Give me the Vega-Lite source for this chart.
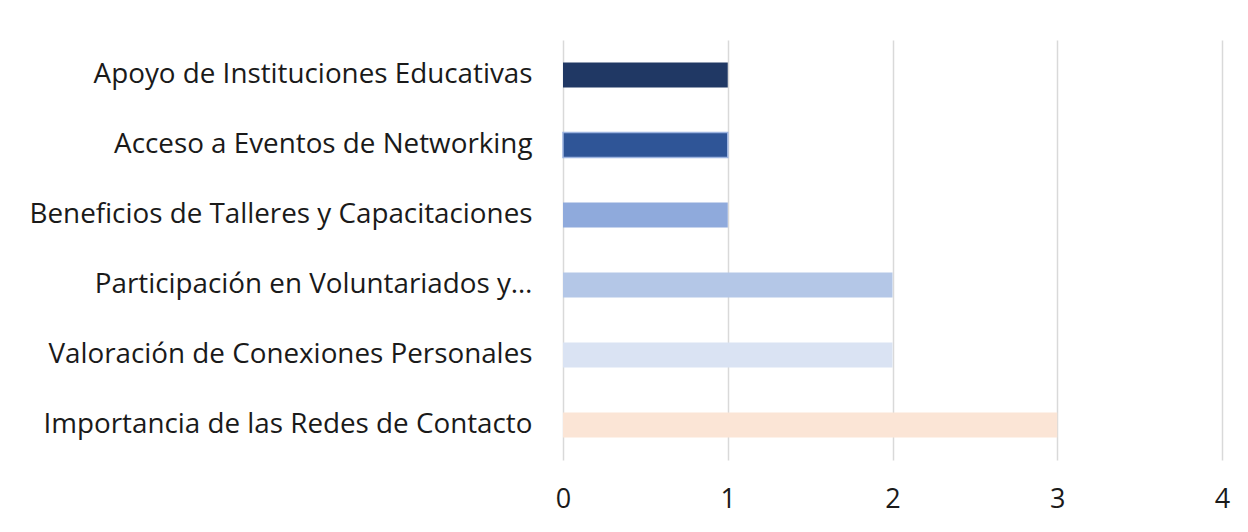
{
  "$schema": "https://vega.github.io/schema/vega-lite/v6.json",
  "width": 659,
  "height": 420,
  "autosize": {"type": "none"},
  "padding": {"left": 563, "top": 40, "right": 26, "bottom": 72},
  "background": "white",
  "config": {"view": {"stroke": null}, "font": "Open Sans"},
  "data": {
    "values": [
      {"categoria": "Apoyo de Instituciones Educativas", "valor": 1, "orden": 1},
      {"categoria": "Acceso a Eventos de Networking", "valor": 1, "orden": 2},
      {"categoria": "Beneficios de Talleres y Capacitaciones", "valor": 1, "orden": 3},
      {"categoria": "Participación en Voluntariados y…", "valor": 2, "orden": 4},
      {"categoria": "Valoración de Conexiones Personales", "valor": 2, "orden": 5},
      {"categoria": "Importancia de las Redes de Contacto", "valor": 3, "orden": 6}
    ]
  },
  "mark": {"type": "bar", "strokeWidth": 1.5},
  "encoding": {
    "y": {
      "field": "categoria",
      "type": "nominal",
      "sort": {"field": "orden", "order": "ascending"},
      "scale": {"paddingInner": 0.64, "paddingOuter": 0.32},
      "axis": {
        "title": null,
        "domain": false,
        "ticks": false,
        "labelFontSize": 27.8,
        "labelColor": "#1a1a1a",
        "labelPadding": 31,
        "labelLimit": 600
      }
    },
    "x": {
      "field": "valor",
      "type": "quantitative",
      "scale": {"domain": [0, 4]},
      "axis": {
        "title": null,
        "values": [0, 1, 2, 3, 4],
        "format": "d",
        "domain": false,
        "ticks": false,
        "grid": true,
        "gridColor": "#d9d9d9",
        "gridWidth": 1.5,
        "labelFontSize": 27,
        "labelColor": "#1a1a1a",
        "labelPadding": 26,
        "labelFlush": false
      }
    },
    "color": {
      "field": "categoria",
      "type": "nominal",
      "sort": {"field": "orden", "order": "ascending"},
      "scale": {
        "range": ["#203864", "#2f5597", "#8faadc", "#b4c7e7", "#dae3f3", "#fbe5d6"]
      },
      "legend": null
    },
    "stroke": {
      "condition": {"test": "datum.orden === 2", "value": "#9db4e0"},
      "value": null
    }
  }
}
